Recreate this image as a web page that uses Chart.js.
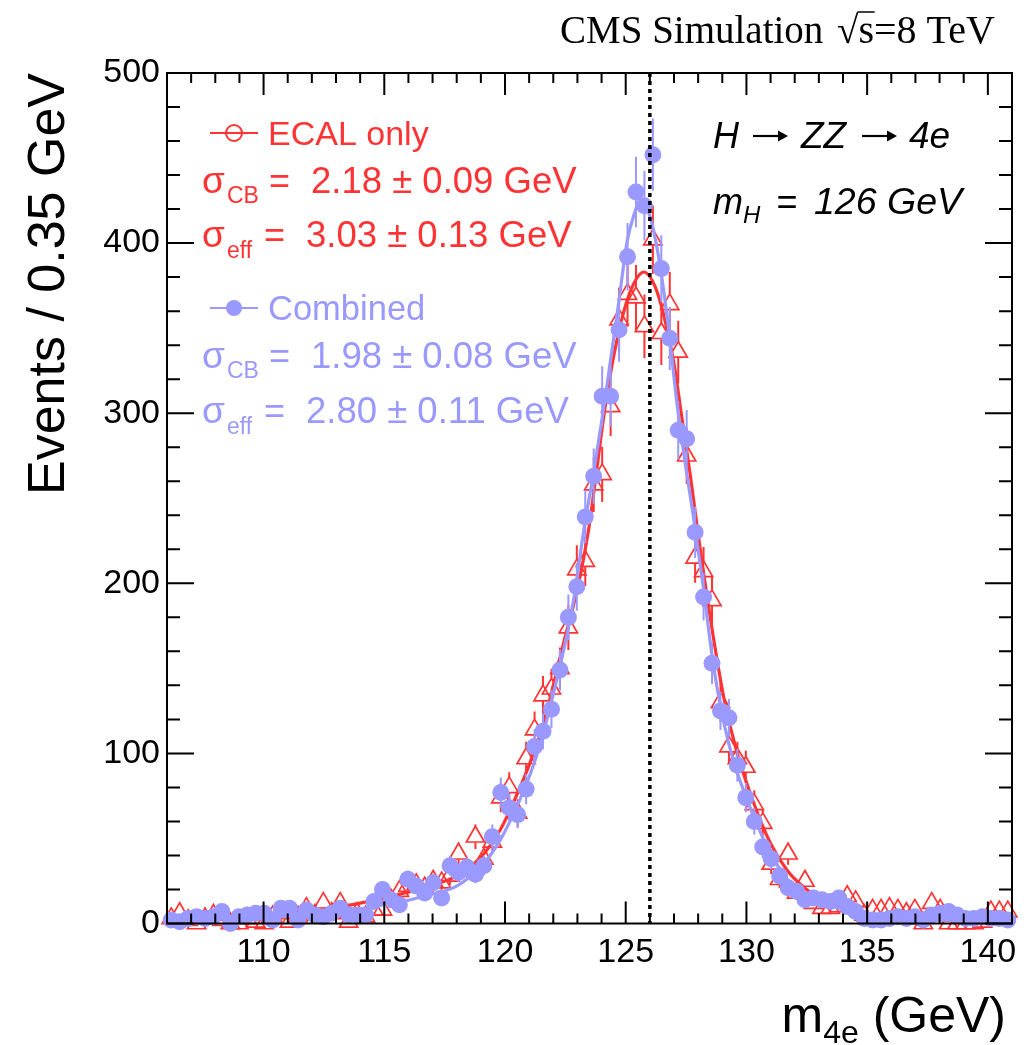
<!DOCTYPE html>
<html>
<head>
<meta charset="utf-8">
<script src="https://cdn.jsdelivr.net/npm/chart.js@4.4.1/dist/chart.umd.min.js"></script>
<style>
  html, body { margin: 0; padding: 0; background: #fff; }
  #wrap { width: 1034px; height: 1045px; }
</style>
</head>
<body>
<div id="wrap"><canvas id="massPlot" width="1034" height="1045"></canvas></div>
<script>
// m(4e) for a 126 GeV Higgs, 100 bins of 0.35 GeV from 106 to 141 GeV
var binLow = 106;
var binWidth = 0.35;

// events per bin, ECAL-only electron energy
var ecalOnly = [
  3, 6, 2, 0, 3, 5, 2, 0, 0, 3,
  1, 0, 4, 6, 1, 4, 9, 5, 12, 6,
  12, 1, 6, 4, 8, 8, 14, 19, 22, 23,
  21, 25, 24, 28, 41, 32, 51, 38, 48, 74,
  80, 65, 97, 114, 134, 138, 150, 174, 208, 213,
  258, 264, 304, 355, 370, 368, 351, 402, 347, 364,
  336, 275, 215, 207, 190, 130, 104, 97, 92, 70,
  59, 35, 26, 41, 18, 25, 12, 9, 9, 10,
  16, 13, 5, 8, 8, 9, 8, 6, 8, 0,
  12, 8, 0, 0, 0, 0, 1, 7, 7, 7
];

// events per bin, ECAL + tracker combination
var combined = [
  2, 1, 3, 4, 3, 4, 7, 0, 4, 5,
  6, 6, 2, 9, 9, 2, 8, 5, 4, 6,
  9, 5, 5, 5, 13, 20, 14, 11, 26, 22,
  18, 24, 15, 34, 30, 33, 29, 34, 51, 77,
  68, 64, 79, 104, 113, 126, 149, 180, 198, 239,
  263, 310, 310, 349, 392, 430, 422, 452, 385, 344,
  290, 285, 230, 192, 153, 125, 121, 93, 74, 60,
  45, 38, 28, 21, 19, 14, 15, 14, 13, 15,
  10, 7, 3, 2, 2, 3, 4, 3, 4, 2,
  5, 6, 7, 5, 3, 3, 4, 3, 3, 2
];

// Crystal Ball fit curves
var ecalFitMass = [106, 108, 110, 112, 113, 114, 115, 116, 117, 118,
  119, 119.8, 120.5, 121.05, 121.6, 122.0, 122.43, 123.05, 123.47, 123.81,
  124.09, 124.43, 124.85, 125.26, 125.75, 126.2, 126.57, 126.99, 127.3, 127.68,
  128.0, 128.5, 129.06, 129.6, 130.3, 131.0, 131.7, 132.4, 133.1, 133.75,
  134.5, 135.5, 137, 139, 141];
var ecalFitValue = [3, 4, 5.5, 8, 9.5, 12, 15, 18.5, 22.5, 28,
  39, 55, 76, 95, 118, 140, 165, 200, 232, 268,
  298, 328, 356, 374, 383, 375, 358, 330, 300, 263,
  229, 180, 133, 101, 71, 47, 31, 21, 14, 10,
  6.5, 4, 2.5, 1.7, 1.2];

var combinedFitMass = [106, 108, 110, 112, 113, 114, 115, 115.8, 116.9, 118,
  119.1, 119.8, 120.5, 121.05, 121.47, 121.88, 122.29, 122.6, 122.91, 123.26,
  123.67, 124.09, 124.36, 124.7, 125.06, 125.35, 125.6, 126.02, 126.43, 126.78,
  127.13, 127.47, 127.88, 128.23, 128.6, 128.92, 129.3, 129.61, 130.3, 131.0,
  131.7, 132.4, 133.1, 133.8, 134.5, 135.5, 137, 139, 141];
var combinedFitValue = [1.5, 2.5, 3.5, 5, 6.5, 8.5, 11, 13, 17, 22,
  35, 49, 69, 88, 106, 128, 152, 172, 196, 231,
  265, 303, 330, 364, 401, 417, 425, 415, 386, 349,
  305, 270, 232, 196, 155, 128, 104, 89, 63, 41,
  26, 18, 13, 9, 6, 4, 2.5, 1.8, 1.3];

var xTicks = [110, 115, 120, 125, 130, 135, 140];
var yTicks = [0, 100, 200, 300, 400, 500];
var massH = 126;

var RED = '#ff3333';
var BLUE = '#9999ff';
var SANS = "'Liberation Sans', Arial, Helvetica, sans-serif";
var SERIF = "'Liberation Serif', 'Times New Roman', serif";

Chart.defaults.font.family = SANS;
Chart.defaults.color = '#000';

var binCenters = ecalOnly.map(function (v, i) { return binLow + binWidth * (i + 0.5); });

function toPoints(xs, ys) {
  return xs.map(function (x, i) { return { x: x, y: ys[i] }; });
}

// Poisson error bars drawn just before the markers of each dataset
var errorBars = {
  id: 'errorBars',
  beforeDatasetDraw: function (chart, args) {
    var ds = chart.data.datasets[args.index];
    if (!ds.errorBars) return;
    var ctx = chart.ctx, ys = chart.scales.y;
    ctx.save();
    ctx.strokeStyle = ds.pointBorderColor;
    ctx.lineWidth = 2;
    ctx.beginPath();
    args.meta.data.forEach(function (el, i) {
      var n = ds.data[i].y;
      var err = Math.sqrt(n);
      var top = ys.getPixelForValue(n + err);
      var bot = ys.getPixelForValue(Math.max(n - err, 0));
      if (top < el.y - ds.errorGap[0]) {
        ctx.moveTo(el.x, top);
        ctx.lineTo(el.x, el.y - ds.errorGap[0]);
      }
      if (bot > el.y + ds.errorGap[1]) {
        ctx.moveTo(el.x, el.y + ds.errorGap[1]);
        ctx.lineTo(el.x, bot);
      }
    });
    ctx.stroke();
    ctx.restore();
  }
};

// frame with inward ticks on all four sides, plus the m_H marker line
var frame = {
  id: 'frame',
  afterDatasetsDraw: function (chart) {
    var ctx = chart.ctx, a = chart.chartArea, xs = chart.scales.x, ys = chart.scales.y;
    ctx.save();
    var xh = xs.getPixelForValue(massH);
    ctx.strokeStyle = '#000';
    ctx.lineWidth = 3.5;
    ctx.setLineDash([4, 4]);
    ctx.beginPath();
    ctx.moveTo(xh, a.top);
    ctx.lineTo(xh, a.bottom);
    ctx.stroke();
    ctx.setLineDash([]);

    ctx.lineWidth = 2;
    ctx.strokeRect(a.left, a.top, a.right - a.left, a.bottom - a.top);
    ctx.beginPath();
    for (var m = binLow; m <= xs.max; m++) {
      var px = xs.getPixelForValue(m);
      var len = m % 5 === 0 ? 22 : 10;
      ctx.moveTo(px, a.bottom); ctx.lineTo(px, a.bottom - len);
      ctx.moveTo(px, a.top); ctx.lineTo(px, a.top + len);
    }
    for (var v = 0; v <= ys.max; v += 20) {
      var py = ys.getPixelForValue(v);
      var ylen = v % 100 === 0 ? 27 : 13;
      ctx.moveTo(a.left, py); ctx.lineTo(a.left + ylen, py);
      ctx.moveTo(a.right, py); ctx.lineTo(a.right - ylen, py);
    }
    ctx.stroke();
    ctx.restore();
  }
};

function drawRuns(ctx, x, y, runs, color) {
  ctx.fillStyle = color;
  ctx.textAlign = 'left';
  ctx.textBaseline = 'alphabetic';
  runs.forEach(function (r) {
    ctx.font = (r.italic ? 'italic ' : '') + r.size + 'px ' + (r.family || SANS);
    if (r.at !== undefined) x = r.at;
    ctx.fillText(r.text, x, y + (r.dy || 0));
    x += ctx.measureText(r.text).width;
  });
  return x;
}

function runsWidth(ctx, runs) {
  var w = 0;
  runs.forEach(function (r) {
    ctx.font = (r.italic ? 'italic ' : '') + r.size + 'px ' + (r.family || SANS);
    w += ctx.measureText(r.text).width;
  });
  return w;
}

function arrow(ctx, x0, x1, y) {
  ctx.beginPath();
  ctx.moveTo(x0, y); ctx.lineTo(x1 - 3, y);
  ctx.stroke();
  ctx.beginPath();
  ctx.moveTo(x1, y); ctx.lineTo(x1 - 10, y - 5.5); ctx.lineTo(x1 - 10, y + 5.5);
  ctx.closePath();
  ctx.fill();
}

// legend, fit results and labels
var labels = {
  id: 'labels',
  afterDraw: function (chart) {
    var ctx = chart.ctx;
    ctx.save();

    // ECAL only entry
    ctx.strokeStyle = RED;
    ctx.lineWidth = 2;
    ctx.beginPath();
    ctx.moveTo(210, 133); ctx.lineTo(258, 133);
    ctx.stroke();
    ctx.beginPath();
    ctx.arc(234, 133, 8, 0, Math.PI * 2);
    ctx.fillStyle = '#fff';
    ctx.fill();
    ctx.stroke();
    ctx.beginPath();
    ctx.moveTo(226, 133); ctx.lineTo(242, 133);
    ctx.stroke();
    drawRuns(ctx, 268, 145, [{ text: 'ECAL only', size: 34 }], RED);
    drawRuns(ctx, 202, 193, [
      { text: 'σ', size: 37 },
      { text: 'CB', size: 23, dy: 10, at: 227 },
      { text: '=', size: 36, at: 269 },
      { text: '2.18 ± 0.09 GeV', size: 36.5, at: 311 }
    ], RED);
    drawRuns(ctx, 202, 247, [
      { text: 'σ', size: 37 },
      { text: 'eff', size: 23, dy: 11, at: 227 },
      { text: '=', size: 36, at: 264 },
      { text: '3.03 ± 0.13 GeV', size: 36.5, at: 306 }
    ], RED);

    // Combined entry
    ctx.strokeStyle = BLUE;
    ctx.beginPath();
    ctx.moveTo(210, 308); ctx.lineTo(258, 308);
    ctx.stroke();
    ctx.beginPath();
    ctx.arc(234, 308, 8, 0, Math.PI * 2);
    ctx.fillStyle = BLUE;
    ctx.fill();
    drawRuns(ctx, 268, 320, [{ text: 'Combined', size: 34.5 }], BLUE);
    drawRuns(ctx, 202, 368, [
      { text: 'σ', size: 37 },
      { text: 'CB', size: 23, dy: 10, at: 227 },
      { text: '=', size: 36, at: 269 },
      { text: '1.98 ± 0.08 GeV', size: 36.5, at: 311 }
    ], BLUE);
    drawRuns(ctx, 202, 423, [
      { text: 'σ', size: 37 },
      { text: 'eff', size: 23, dy: 11, at: 227 },
      { text: '=', size: 36, at: 264 },
      { text: '2.80 ± 0.11 GeV', size: 36.5, at: 306 }
    ], BLUE);

    // decay channel and mass point
    drawRuns(ctx, 713, 148, [{ text: 'H', size: 36, italic: true }], '#000');
    drawRuns(ctx, 801, 148, [{ text: 'ZZ', size: 37, italic: true }], '#000');
    drawRuns(ctx, 909, 148, [{ text: '4e', size: 37, italic: true }], '#000');
    ctx.strokeStyle = '#000';
    ctx.fillStyle = '#000';
    ctx.lineWidth = 2.2;
    arrow(ctx, 753, 788, 136);
    arrow(ctx, 862, 897, 136);
    drawRuns(ctx, 713, 214, [
      { text: 'm', size: 36, italic: true },
      { text: 'H', size: 24, italic: true, dy: 9, at: 743 },
      { text: '=', size: 36, italic: true, at: 776 },
      { text: '126 GeV', size: 37.5, italic: true, at: 814 }
    ], '#000');

    // CMS Simulation header
    var hx = drawRuns(ctx, 560, 43, [{ text: 'CMS Simulation ', size: 39, family: SERIF }], '#000');
    hx = drawRuns(ctx, hx + 4, 43, [{ text: '√', size: 39, family: SERIF }], '#000');
    ctx.font = '39px ' + SERIF;
    var sw = ctx.measureText('s').width;
    ctx.strokeStyle = '#000';
    ctx.lineWidth = 1.5;
    ctx.beginPath();
    ctx.moveTo(hx - 1, 12); ctx.lineTo(hx + sw + 1, 12);
    ctx.stroke();
    drawRuns(ctx, hx, 43, [{ text: 's=8 TeV', size: 40, family: SERIF }], '#000');

    // x axis title with subscript
    var xTitle = [
      { text: 'm', size: 50 },
      { text: '4e', size: 32, dy: 11 },
      { text: ' (GeV)', size: 50 }
    ];
    drawRuns(ctx, 1006 - runsWidth(ctx, xTitle), 1032, xTitle, '#000');

    ctx.restore();
  }
};

new Chart(document.getElementById('massPlot'), {
  type: 'line',
  data: {
    datasets: [
      {
        label: 'ECAL only',
        data: toPoints(binCenters, ecalOnly),
        showLine: false,
        pointStyle: 'triangle',
        pointRadius: 10.5,
        pointBorderWidth: 1.7,
        pointBorderColor: RED,
        pointBackgroundColor: 'rgba(0,0,0,0)',
        borderColor: RED,
        errorBars: true,
        errorGap: [10.5, 5.5],
        clip: false,
        order: 5
      },
      {
        label: 'ECAL only fit',
        data: toPoints(ecalFitMass, ecalFitValue),
        borderColor: RED,
        borderWidth: 3.2,
        pointRadius: 0,
        cubicInterpolationMode: 'monotone',
        order: 4
      },
      {
        label: 'Combined',
        data: toPoints(binCenters, combined),
        showLine: false,
        pointStyle: 'circle',
        pointRadius: 8.5,
        pointBorderWidth: 0,
        pointBorderColor: BLUE,
        pointBackgroundColor: BLUE,
        borderColor: BLUE,
        errorBars: true,
        errorGap: [0, 0],
        clip: false,
        order: 3
      },
      {
        label: 'Combined fit',
        data: toPoints(combinedFitMass, combinedFitValue),
        borderColor: BLUE,
        borderWidth: 3.2,
        pointRadius: 0,
        cubicInterpolationMode: 'monotone',
        order: 2
      }
    ]
  },
  options: {
    responsive: false,
    animation: false,
    events: [],
    layout: { padding: { top: 73, right: 22, left: 0, bottom: 0 } },
    plugins: {
      legend: { display: false },
      tooltip: { enabled: false }
    },
    scales: {
      x: {
        type: 'linear',
        min: binLow,
        max: 141,
        grid: { display: false, drawTicks: false },
        border: { display: false },
        afterBuildTicks: function (scale) {
          scale.ticks = xTicks.map(function (v) { return { value: v }; });
        },
        afterFit: function (scale) { scale.height = 121.5; },
        ticks: { padding: 9, color: '#000', font: { size: 34 }, maxRotation: 0, autoSkip: false }
      },
      y: {
        min: 0,
        max: 500,
        grid: { display: false, drawTicks: false },
        border: { display: false },
        afterBuildTicks: function (scale) {
          scale.ticks = yTicks.map(function (v) { return { value: v }; });
        },
        afterFit: function (scale) { scale.width = 167; },
        ticks: { padding: 7, color: '#000', font: { size: 34 }, autoSkip: false },
        title: {
          display: true,
          text: 'Events / 0.35 GeV',
          align: 'end',
          color: '#000',
          font: { size: 52 },
          padding: { top: 18 }
        }
      }
    }
  },
  plugins: [errorBars, frame, labels]
});
</script>
</body>
</html>
